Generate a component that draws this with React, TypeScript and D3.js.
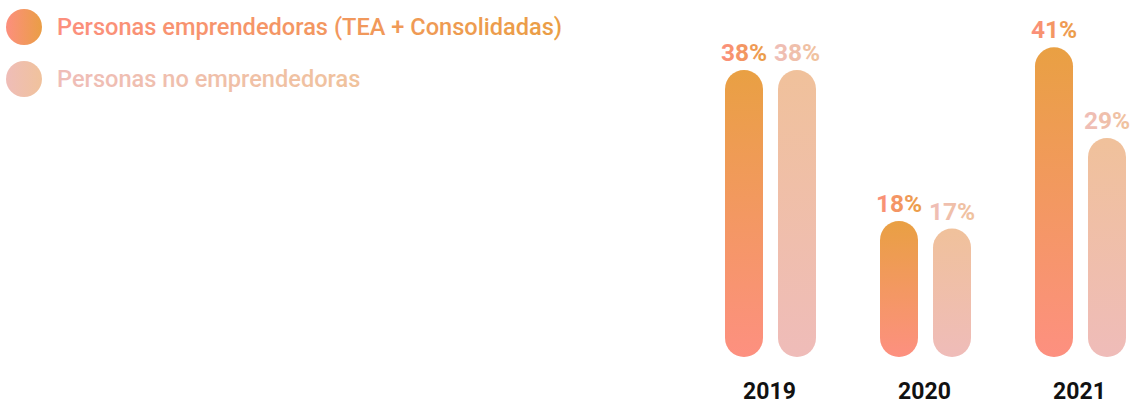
import React from "react";
import * as d3 from "d3";

const years = ["2019", "2020", "2021"];
const seriesNames = ["Personas emprendedoras (TEA + Consolidadas)", "Personas no emprendedoras"];
const emprendedoras = [38, 18, 41];
const noEmprendedoras = [38, 17, 29];

const W = 1135;
const H = 404;

export default function App() {
  const x = d3.scaleBand<string>().domain(years).range([693, 1158]).padding(0);
  const inner = d3
    .scaleBand<number>()
    .domain([0, 1])
    .range([32, 32 + 91])
    .paddingInner(0.283)
    .paddingOuter(0);
  const y = d3.scaleLinear().domain([0, 38]).range([357, 70]);
  const bw = inner.bandwidth();
  const series = [emprendedoras, noEmprendedoras];
  const font = "Roboto, 'Open Sans', sans-serif";

  return (
    <svg
      width={W}
      height={H}
      style={{ position: "absolute", left: 0, top: 0, display: "block" }}
    >
      <defs>
        <linearGradient id="bar0" x1="0" y1="0" x2="0" y2="1">
          <stop offset="0" stopColor="#E9A043" />
          <stop offset="1" stopColor="#FD9080" />
        </linearGradient>
        <linearGradient id="bar1" x1="0" y1="0" x2="0" y2="1">
          <stop offset="0" stopColor="#F0C19B" />
          <stop offset="1" stopColor="#EFBCB9" />
        </linearGradient>
        <linearGradient id="h0" x1="0" y1="0" x2="1" y2="0">
          <stop offset="0" stopColor="#FC8F7E" />
          <stop offset="1" stopColor="#EA9E45" />
        </linearGradient>
        <linearGradient id="h1" x1="0" y1="0" x2="1" y2="0">
          <stop offset="0" stopColor="#EFBDB8" />
          <stop offset="1" stopColor="#F0C29C" />
        </linearGradient>
      </defs>

      {/* Legend */}
      {seriesNames.map((name, i) => (
        <g key={name} transform={`translate(0, ${27 + i * 52})`}>
          <circle cx={24} cy={0} r={18} fill={`url(#h${i})`} />
          <text
            x={57}
            y={8}
            fontFamily={font}
            fontSize={23.6}
            fontWeight={500}
            fill={`url(#h${i})`}
          >
            {name}
          </text>
        </g>
      ))}

      {/* Bars */}
      {years.map((yr, yi) => (
        <g key={yr} transform={`translate(${x(yr)}, 0)`}>
          {series.map((vals, si) => {
            const v = vals[yi];
            const bx = inner(si)!;
            const top = y(v);
            return (
              <g key={si}>
                <rect
                  x={bx}
                  y={top}
                  width={bw}
                  height={y(0) - top}
                  rx={bw / 2}
                  ry={bw / 2}
                  fill={`url(#bar${si})`}
                />
                <text
                  x={bx + bw / 2}
                  y={top - 9}
                  textAnchor="middle"
                  fontFamily={font}
                  fontSize={24.5}
                  fontWeight={700}
                  fill={`url(#h${si})`}
                >
                  {`${v}%`}
                </text>
              </g>
            );
          })}
          <text
            x={x.bandwidth() / 2 - 1}
            y={399}
            textAnchor="middle"
            fontFamily={font}
            fontSize={23}
            fontWeight={700}
            fill="#111"
          >
            {yr}
          </text>
        </g>
      ))}
    </svg>
  );
}
